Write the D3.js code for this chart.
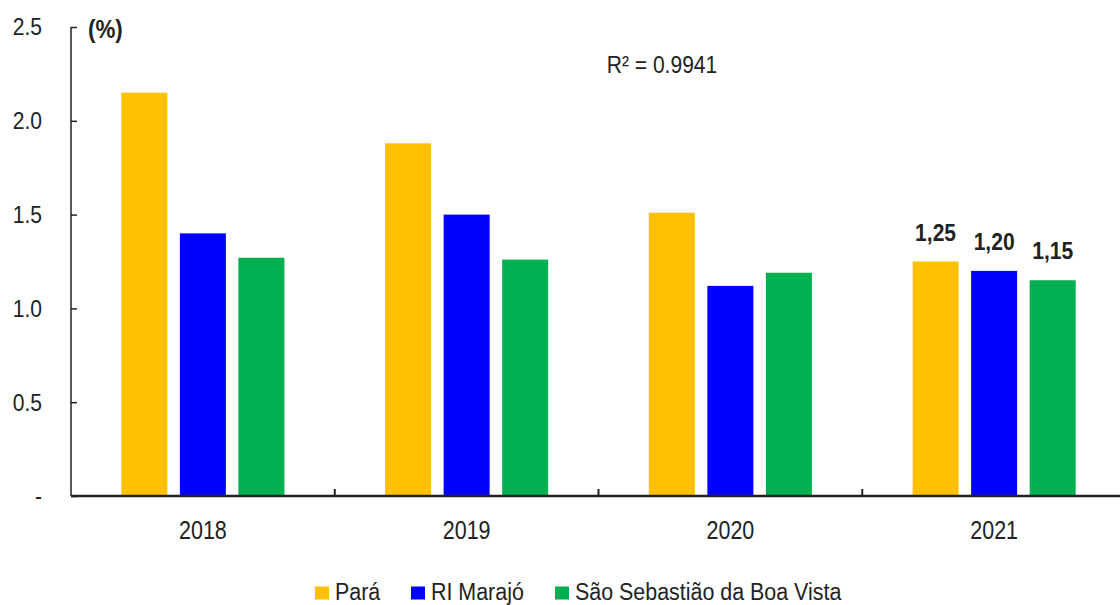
<!DOCTYPE html>
<html><head><meta charset="utf-8">
<script src="https://cdn.jsdelivr.net/npm/d3@7"></script>
<style>
html,body{margin:0;padding:0;background:#fff;}
svg text{font-family:"Liberation Sans Narrow","Arial Narrow","Liberation Sans",sans-serif;fill:#222;}
</style></head>
<body>
<svg id="c" width="1120" height="605"></svg>
<script>
const years = ["2018","2019","2020","2021"];
const seriesNames = ["Pará","RI Marajó","São Sebastião da Boa Vista"];
const para = [2.15, 1.88, 1.51, 1.25];
const marajo = [1.40, 1.50, 1.12, 1.20];
const ssbv = [1.27, 1.26, 1.19, 1.15];
const colors = ["#FFC000","#0000FF","#00B050"];
const yTicks = [0, 0.5, 1.0, 1.5, 2.0, 2.5];
const yTickLabels = ["-", "0.5", "1.0", "1.5", "2.0", "2.5"];
const labels2021 = ["1,25","1,20","1,15"];
const r2Text = "R² = 0.9941";

(function(){
const SX = 0.86;
const svg = d3.select("#c");
const mL = 71, mB = 496, mT = 27, mR = 1126;
const y = d3.scaleLinear().domain([0, 2.5]).range([mB, mT]);
const x0 = d3.scaleBand().domain(years).range([mL, mR]).paddingInner(0).paddingOuter(0);
const x1 = d3.scaleBand().domain(seriesNames).range([0, x0.bandwidth()]).paddingInner(0.214).paddingOuter(0.86);
const data = [para, marajo, ssbv];

years.forEach((yr, i) => {
  const g = svg.append("g").attr("transform", `translate(${x0(yr)},0)`);
  seriesNames.forEach((s, j) => {
    g.append("rect")
      .attr("x", x1(s)).attr("width", x1.bandwidth())
      .attr("y", y(data[j][i])).attr("height", y(0) - y(data[j][i]))
      .attr("fill", colors[j]);
  });
});

const yAxis = d3.axisLeft(y).tickValues(yTicks).tickSize(-6).tickPadding(29)
  .tickFormat((d, i) => yTickLabels[i]);
const ya = svg.append("g").attr("transform", `translate(${mL},0)`).call(yAxis);
ya.select(".domain").attr("stroke", "#222").attr("stroke-width", 1.5).attr("d", `M0,${mT}V${mB}`);
ya.selectAll(".tick line").attr("stroke", "#222").attr("stroke-width", 1.5);
ya.selectAll(".tick text").style("font-size", "24.5px").attr("x", -29 / SX)
  .attr("transform", `scale(${SX},1)`).attr("fill", "#222");

const xa = svg.append("g").attr("transform", `translate(0,${mB})`)
  .call(d3.axisBottom(x0).tickSize(0).tickPadding(25));
xa.select(".domain").attr("stroke", "#222").attr("stroke-width", 2.5).attr("d", `M${mL},0H1120`);
xa.selectAll(".tick text").style("font-size", "25px").attr("transform", `scale(${SX},1)`).attr("fill", "#222");
svg.append("g").selectAll("line").data(years.slice(1)).join("line")
  .attr("x1", d => x0(d)).attr("x2", d => x0(d))
  .attr("y1", mB).attr("y2", mB - 7)
  .attr("stroke", "#222").attr("stroke-width", 2);

svg.append("text").attr("transform", `translate(88,38) scale(${SX},1)`)
  .style("font-size", "26px").style("font-weight", "bold").text("(%)");

svg.append("text").attr("transform", `translate(662,73) scale(${SX},1)`)
  .attr("text-anchor", "middle").style("font-size", "24.5px").text(r2Text);

const g21 = svg.append("g").attr("transform", `translate(${x0("2021")},0)`);
seriesNames.forEach((s, j) => {
  g21.append("text")
    .attr("transform", `translate(${x1(s) + x1.bandwidth() / 2},${y(data[j][3]) - 21}) scale(${SX},1)`)
    .attr("text-anchor", "middle")
    .style("font-size", "24.5px").style("font-weight", "bold")
    .text(labels2021[j]);
});

const legX = [315, 411, 555];
const lg = svg.append("g");
seriesNames.forEach((s, j) => {
  lg.append("rect").attr("x", legX[j]).attr("y", 586.5).attr("width", 14).attr("height", 13).attr("fill", colors[j]);
  lg.append("text").attr("transform", `translate(${legX[j] + 20},600) scale(0.875,1)`)
    .style("font-size", "24.5px").text(s);
});
})();
</script>
</body></html>
